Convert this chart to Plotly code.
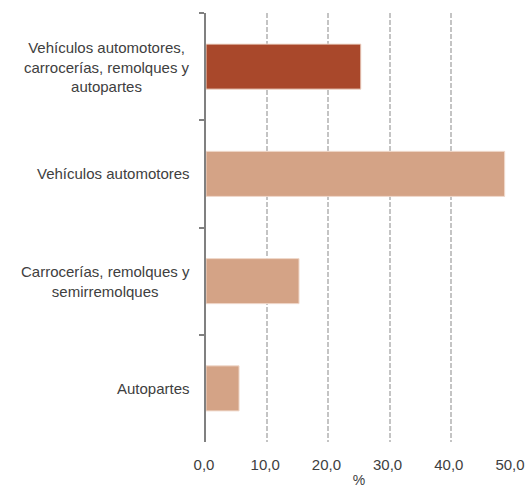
import plotly.graph_objects as go

# categorías y valores (%)
categorias = [
    "Vehículos automotores,<br>carrocerías, remolques y<br>autopartes",
    "Vehículos automotores",
    "Carrocerías, remolques y<br>semirremolques",
    "Autopartes",
]
valores = [25.3, 48.8, 15.2, 5.4]
colores = ["#A9482B", "#D4A386", "#D4A386", "#D4A386"]
ticks_x = [0, 10, 20, 30, 40, 50]

fig = go.Figure()
fig.add_trace(go.Bar(
    y=categorias, x=valores, orientation="h",
    marker=dict(color=colores, line=dict(color="#F0D9CC", width=1)),
    width=0.42,
))

# etiquetas de categoría centradas (como anotaciones)
for cat in categorias:
    fig.add_annotation(
        x=0, xref="paper", y=cat, yref="y",
        text=cat, showarrow=False, xanchor="right", align="center",
        xshift=-14, font=dict(family="Liberation Sans, Arial", size=15, color="#404040"),
    )

fig.update_layout(
    width=529, height=488,
    margin=dict(l=206, r=17, t=13, b=46),
    plot_bgcolor="white", paper_bgcolor="white",
    separators=",.",
    showlegend=False,
    font=dict(family="Liberation Sans, Arial", size=15, color="#404040"),
    xaxis=dict(
        range=[0, 50], tickvals=ticks_x, tickformat=".1f",
        showgrid=True, gridcolor="#C4C4C4", griddash="5px,2px", gridwidth=1.5,
        zeroline=False, showline=False, ticks="",
        tickfont=dict(size=15, color="#404040"),
        ticklabelstandoff=12, ticklabelshift=-2,
        title=dict(text="%", standoff=9, font=dict(size=14, color="#404040")),
        automargin=False,
    ),
    yaxis=dict(
        type="category", autorange="reversed",
        showticklabels=False, showgrid=False, zeroline=False,
        showline=True, linecolor="#808080", linewidth=2,
        ticks="outside", tickson="boundaries", ticklen=5, tickcolor="#808080", tickwidth=1.5,
        automargin=False,
    ),
)

# quitar el margen por defecto del body para que la figura empiece en (0, 0)
fig.write_html("out.html", config={"displayModeBar": False},
               post_script="document.body.style.margin='0px';")
